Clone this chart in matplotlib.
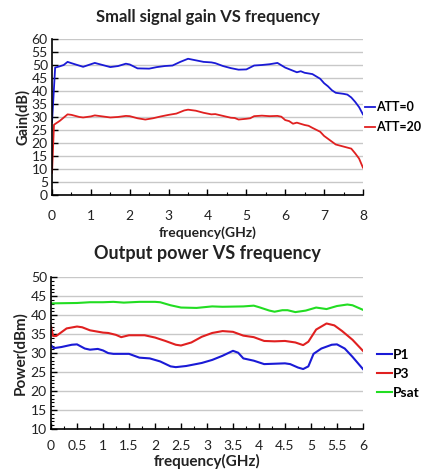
import matplotlib
matplotlib.use("Agg")
import matplotlib.pyplot as plt
from matplotlib.ticker import MultipleLocator

plt.rcParams['font.family'] = ['Lato', 'DejaVu Sans']

# small signal gain, frequency in GHz
f_gain = [0, 0.08, 0.2, 0.3, 0.4, 0.5, 0.65, 0.8, 1.0, 1.1, 1.3, 1.5, 1.7, 1.9, 2.0,
          2.2, 2.5, 2.7, 2.9, 3.1, 3.3, 3.5, 3.7, 3.9, 4.1, 4.2, 4.4, 4.6, 4.8, 5.0,
          5.2, 5.4, 5.6, 5.8, 6.0, 6.1, 6.3, 6.4, 6.5, 6.7, 6.9, 7.0, 7.1, 7.2, 7.3,
          7.5, 7.6, 7.7, 7.8, 7.9, 8.0]
att0 = [28, 49, 49.5, 50, 51.2, 50.7, 50.0, 49.3, 50.3, 50.8, 50, 49.2, 49.6, 50.5, 50.2,
        48.7, 48.6, 49.2, 49.6, 49.8, 51.2, 52.4, 51.8, 51.2, 51.0, 50.7, 49.6, 48.8, 48.2, 48.3,
        49.8, 50.0, 50.3, 50.8, 49.0, 48.4, 47.2, 47.6, 47.0, 46.5, 44.7, 43.0, 41.8, 40.3, 39.3,
        38.9, 38.6, 37.5, 35.8, 33.8, 31.0]
f_gain20 = [0, 0.05, 0.2, 0.4, 0.5, 0.7, 0.8, 1.0, 1.1, 1.3, 1.5, 1.7, 1.9, 2.0, 2.2,
            2.4, 2.6, 2.8, 3.0, 3.2, 3.4, 3.5, 3.7, 3.9, 4.1, 4.2, 4.4, 4.6, 4.7, 4.8,
            5.0, 5.1, 5.2, 5.4, 5.6, 5.8, 5.9, 6.0, 6.1, 6.2, 6.3, 6.5, 6.6, 6.7, 6.9,
            7.0, 7.1, 7.2, 7.3, 7.5, 7.7, 7.8, 7.9, 8.0]
att20 = [8.5, 27, 28.5, 31, 30.8, 30, 29.8, 30.2, 30.6, 30.2, 29.8, 30.0, 30.4, 30.3, 29.5,
         29.0, 29.5, 30.2, 30.8, 31.3, 32.5, 32.8, 32.4, 31.6, 31.0, 31.1, 30.4, 29.7, 29.6, 29.0,
         29.3, 29.5, 30.3, 30.5, 30.3, 30.4, 30.1, 28.8, 28.4, 27.4, 27.8, 26.9, 26.6, 25.8, 24.3,
         22.7, 21.6, 20.5, 19.4, 18.6, 17.8, 16.0, 14.0, 10.5]

# output power, frequency in GHz
f_psat = [0, 0.5, 0.75, 1.0, 1.2, 1.4, 1.7, 2.0, 2.1, 2.3, 2.5, 2.8, 3.1, 3.3, 3.7,
          3.9, 4.0, 4.2, 4.3, 4.45, 4.55, 4.7, 4.9, 5.1, 5.3, 5.5, 5.7, 5.8, 6.0]
psat = [43.1, 43.2, 43.4, 43.4, 43.5, 43.3, 43.5, 43.5, 43.4, 42.6, 42.0, 41.9, 42.3, 42.2, 42.3,
        42.5, 42.1, 41.2, 40.9, 41.3, 41.3, 40.8, 41.2, 42.0, 41.6, 42.4, 42.8, 42.6, 41.4]
f_p3 = [0, 0.04, 0.1, 0.3, 0.5, 0.6, 0.75, 1.0, 1.1, 1.25, 1.35, 1.5, 1.8, 2.0, 2.2,
        2.4, 2.5, 2.7, 2.9, 3.1, 3.3, 3.5, 3.7, 3.9, 4.1, 4.3, 4.5, 4.7, 4.85, 4.95,
        5.1, 5.3, 5.45, 5.6, 5.8, 6.0]
p3 = [37.0, 34.5, 34.5, 36.5, 37.0, 36.8, 36.0, 35.4, 35.3, 34.8, 34.2, 34.7, 34.7, 34.1, 33.2,
      32.2, 32.0, 32.8, 34.3, 35.3, 35.8, 35.6, 34.6, 34.2, 33.2, 33.1, 33.2, 32.8, 32.1, 33.0,
      36.2, 37.8, 37.3, 35.8, 33.5, 30.6]
f_p1 = [0, 0.05, 0.2, 0.4, 0.5, 0.65, 0.75, 0.9, 1.0, 1.1, 1.2, 1.5, 1.7, 1.9, 2.1,
        2.3, 2.4, 2.6, 2.9, 3.1, 3.3, 3.5, 3.6, 3.7, 3.9, 4.1, 4.3, 4.5, 4.6, 4.75,
        4.85, 4.95, 5.05, 5.2, 5.4, 5.5, 5.65, 5.8, 6.0]
p1 = [32.1, 31.3, 31.6, 32.2, 32.3, 31.2, 30.9, 31.1, 30.7, 30.0, 29.8, 29.8, 28.8, 28.6, 27.8,
      26.5, 26.3, 26.6, 27.4, 28.2, 29.3, 30.6, 30.1, 28.6, 28.0, 27.1, 27.2, 27.3, 27.1, 26.2,
      25.8, 26.5, 29.8, 31.2, 32.2, 32.3, 31.2, 29.0, 25.8]

BLUE = '#1a1ad6'
RED = '#e02020'
GREEN = '#22dd22'
GRID = '#c8c8c8'
TXT = '#222222'


def style(ax, xpad):
    ax.spines['top'].set_visible(False)
    ax.spines['right'].set_visible(False)
    ax.spines['left'].set_linewidth(1.2)
    ax.spines['bottom'].set_linewidth(1.2)
    ax.grid(axis='y', color=GRID, linewidth=1.0)
    ax.set_axisbelow(True)
    ax.tick_params(which='both', direction='in', colors='black', labelcolor=TXT, labelsize=10)
    ax.tick_params(which='major', length=4, width=1)
    ax.tick_params(which='minor', length=2.5, width=0.8)
    ax.tick_params(axis='x', pad=xpad)
    ax.tick_params(axis='y', pad=3)


fig = plt.figure(figsize=(4.23, 4.73), dpi=100)

ax1 = fig.add_axes([0.123, 0.588, 0.735, 0.3295])
ax1.plot(f_gain, att0, color=BLUE, lw=1.3, label='ATT=0')
ax1.plot(f_gain20, att20, color=RED, lw=1.3, label='ATT=20')
ax1.set_xlim(0, 8)
ax1.set_ylim(0, 60)
ax1.xaxis.set_major_locator(MultipleLocator(1))
ax1.xaxis.set_minor_locator(MultipleLocator(0.5))
ax1.yaxis.set_major_locator(MultipleLocator(5))
style(ax1, 11)
ax1.set_title('Small signal gain VS frequency', fontsize=12, fontweight='bold',
              color=TXT, pad=12)
ax1.set_xlabel('frequency(GHz)', fontsize=10, fontweight='bold', color=TXT, labelpad=3)
ax1.set_ylabel('Gain(dB)', fontsize=10.5, fontweight='bold', color=TXT, labelpad=1)
ax1.legend(loc='center left', bbox_to_anchor=(1.006, 0.497), frameon=False,
           borderpad=0, borderaxespad=0,
           handlelength=0.85, handletextpad=0.08, labelspacing=0.65,
           prop={'weight': 'bold', 'size': 9})

ax2 = fig.add_axes([0.1206, 0.093, 0.7374, 0.321])
ax2.plot(f_p1, p1, color=BLUE, lw=1.5, label='P1')
ax2.plot(f_p3, p3, color=RED, lw=1.5, label='P3')
ax2.plot(f_psat, psat, color=GREEN, lw=1.5, label='Psat')
ax2.set_xlim(0, 6)
ax2.set_ylim(10, 50)
ax2.xaxis.set_major_locator(MultipleLocator(0.5))
ax2.xaxis.set_minor_locator(MultipleLocator(0.25))
ax2.yaxis.set_major_locator(MultipleLocator(5))
ax2.yaxis.set_minor_locator(MultipleLocator(1))
style(ax2, 8)
ax2.xaxis.set_major_formatter(plt.FuncFormatter(lambda v, p: f'{v:g}'))
ax2.set_title('Output power VS frequency', fontsize=13, fontweight='bold',
              color=TXT, pad=13)
ax2.set_xlabel('frequency(GHz)', fontsize=11, fontweight='bold', color=TXT, labelpad=1)
ax2.set_ylabel('Power(dBm)', fontsize=11, fontweight='bold', color=TXT, labelpad=2)
ax2.legend(loc='center left', bbox_to_anchor=(1.045, 0.362), frameon=False,
           borderpad=0, borderaxespad=0,
           handlelength=1.1, handletextpad=0.08, labelspacing=0.5,
           prop={'weight': 'bold', 'size': 10})

fig.savefig('out.png', dpi=100, facecolor='white')
